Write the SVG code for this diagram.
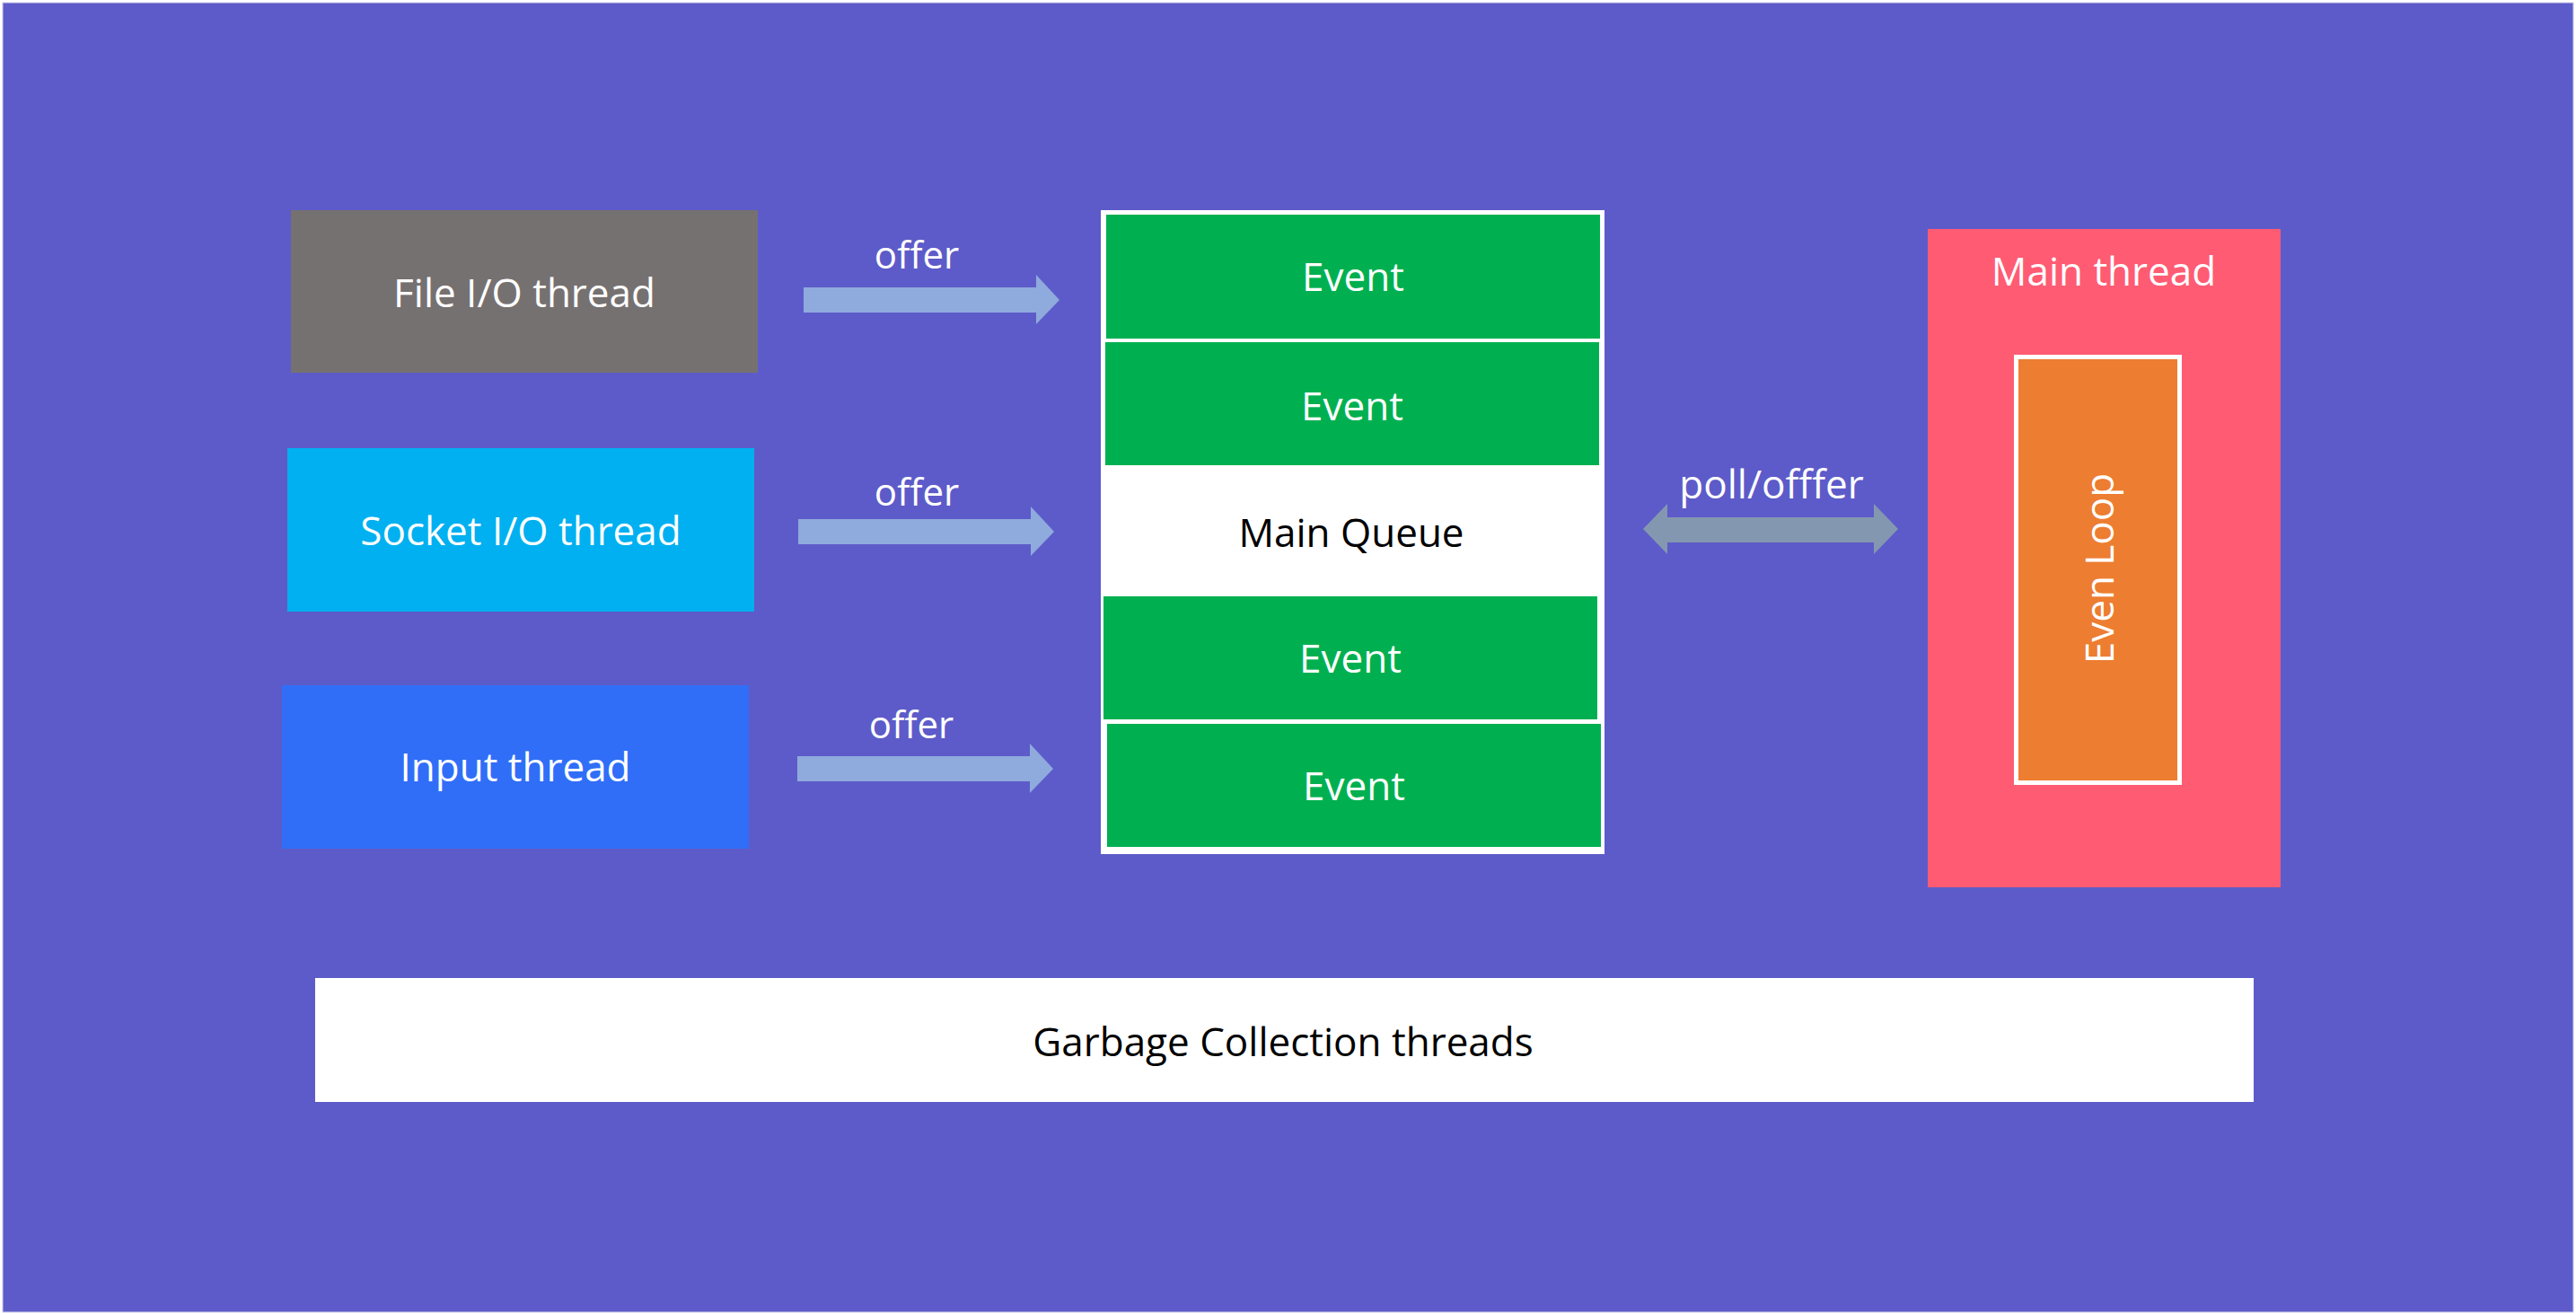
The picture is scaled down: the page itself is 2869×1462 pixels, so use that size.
<svg xmlns="http://www.w3.org/2000/svg" width="2869" height="1462" viewBox="0 0 2869 1462">
  <style>
    text { font-family: "Open Sans", "Noto Sans", "DejaVu Sans", sans-serif; font-size: 44px; text-anchor: middle; }
    .w { fill: #FFFFFF; }
    .k { fill: #000000; }
    .lbl { font-size: 42px; fill: #FFFFFF; }
    .ev { fill: #00B050; }
    .arr { fill: #8FAADC; }
  </style>
  <rect x="0" y="0" width="2869" height="1462" fill="#FFFFFF"/>
  <rect id="background" x="3" y="3" width="2863" height="1458" fill="#5D5BC9" stroke="#C9C8E6" stroke-width="1"/>

  <g id="file-io-thread">
    <rect x="324" y="234" width="520" height="181" fill="#767171"/>
    <text class="w" x="584" y="342">File I/O thread</text>
  </g>
  <g id="socket-io-thread">
    <rect x="320" y="499" width="520" height="182" fill="#00B0F0"/>
    <text class="w" x="580" y="607">Socket I/O thread</text>
  </g>
  <g id="input-thread">
    <rect x="314" y="763" width="520" height="182" fill="#306EF8"/>
    <text class="w" x="574" y="870">Input thread</text>
  </g>

  <g id="main-queue">
    <rect x="1226" y="234" width="561" height="717" fill="#FFFFFF"/>
    <g id="event-1">
      <rect class="ev" x="1232" y="239" width="550" height="138"/>
      <text class="w" x="1507" y="324">Event</text>
    </g>
    <g id="event-2">
      <rect class="ev" x="1231" y="381" width="550" height="137"/>
      <text class="w" x="1506" y="468">Event</text>
    </g>
    <text class="k" x="1505" y="609">Main Queue</text>
    <g id="event-3">
      <rect class="ev" x="1229" y="664" width="550" height="137"/>
      <text class="w" x="1504" y="749">Event</text>
    </g>
    <g id="event-4">
      <rect class="ev" x="1233" y="806" width="550" height="137"/>
      <text class="w" x="1508" y="891">Event</text>
    </g>
  </g>

  <g id="main-thread">
    <rect x="2147" y="255" width="393" height="733" fill="#FF5B73"/>
    <text class="w" x="2343" y="318">Main thread</text>
    <g id="even-loop">
      <rect x="2245.5" y="397.5" width="182" height="474" fill="#ED7D31" stroke="#FFFFFF" stroke-width="5"/>
      <text class="w" transform="translate(2354 633) rotate(-90)" x="0" y="0">Even Loop</text>
    </g>
  </g>

  <g id="garbage-collection-threads">
    <rect x="351" y="1089" width="2159" height="138" fill="#FFFFFF"/>
    <text class="k" x="1429" y="1176">Garbage Collection threads</text>
  </g>

  <g id="connectors">
    <g id="offer-1">
      <polygon class="arr" points="895,320 1154,320 1154,306 1180,334 1154,361 1154,348 895,348"/>
      <text class="lbl" x="1021" y="299">offer</text>
    </g>
    <g id="offer-2">
      <polygon class="arr" points="889,578 1148,578 1148,564 1174,592 1148,619 1148,606 889,606"/>
      <text class="lbl" x="1021" y="563">offer</text>
    </g>
    <g id="offer-3">
      <polygon class="arr" points="888,842 1147,842 1147,828 1173,856 1147,883 1147,870 888,870"/>
      <text class="lbl" x="1015" y="822">offer</text>
    </g>
    <g id="poll-offer">
      <polygon fill="#8497B0" points="1830,589 1857,561 1857,576 2087,576 2087,561 2114,589 2087,617 2087,604 1857,604 1857,617"/>
      <text class="w" x="1973" y="555">poll/offfer</text>
    </g>
  </g>
</svg>
